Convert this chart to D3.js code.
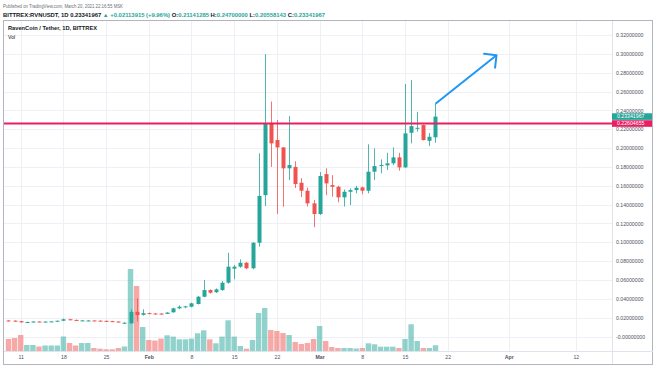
<!DOCTYPE html>
<html><head><meta charset="utf-8">
<script src="https://cdnjs.cloudflare.com/ajax/libs/d3/7.8.5/d3.min.js"></script>
<style>body{margin:0;background:#fff}svg{display:block}text{font-family:"Liberation Sans",Arial,sans-serif}</style>
</head><body><svg id="c" width="654" height="366"></svg>
<script>
// ---- data ----
const dates = [
 "2021-01-09","2021-01-10","2021-01-11","2021-01-12","2021-01-13","2021-01-14","2021-01-15","2021-01-16","2021-01-17","2021-01-18","2021-01-19","2021-01-20","2021-01-21","2021-01-22","2021-01-23","2021-01-24","2021-01-25","2021-01-26","2021-01-27","2021-01-28","2021-01-29","2021-01-30","2021-01-31",
 "2021-02-01","2021-02-02","2021-02-03","2021-02-04","2021-02-05","2021-02-06","2021-02-07","2021-02-08","2021-02-09","2021-02-10","2021-02-11","2021-02-12","2021-02-13","2021-02-14","2021-02-15","2021-02-16","2021-02-17","2021-02-18","2021-02-19","2021-02-20","2021-02-21","2021-02-22","2021-02-23","2021-02-24","2021-02-25","2021-02-26","2021-02-27","2021-02-28",
 "2021-03-01","2021-03-02","2021-03-03","2021-03-04","2021-03-05","2021-03-06","2021-03-07","2021-03-08","2021-03-09","2021-03-10","2021-03-11","2021-03-12","2021-03-13","2021-03-14","2021-03-15","2021-03-16","2021-03-17","2021-03-18","2021-03-19","2021-03-20"];
const open = [
 .0170,.0168,.0163,.0151,.0154,.0159,.0156,.0158,.0160,.0167,.0183,.0176,.0168,.0167,.0170,.0168,.0166,.0163,.0159,.0140,.0140,.0262,.0230,
 .0248,.0244,.0243,.0240,.0257,.0299,.0312,.0316,.0345,.0422,.0493,.0470,.0493,.0571,.0720,.0741,.0783,.0724,.0995,.1500,.2262,.2085,.2007,.1785,.1800,.1632,.1547,.1413,
 .1300,.1724,.1607,.1589,.1477,.1536,.1554,.1583,.1547,.1749,.1809,.1816,.1838,.1901,.1795,.2162,.2205,.2244,.2077,.21141285];
const high = [
 .0174,.0172,.0166,.0158,.0162,.0162,.0161,.0163,.0170,.0190,.0188,.0179,.0174,.0174,.0173,.0171,.0169,.0166,.0162,.0152,.0290,.0405,.0289,
 .0254,.0250,.0250,.0258,.0305,.0330,.0325,.0360,.0430,.0600,.0500,.0510,.0590,.0889,.0760,.0819,.0790,.1000,.1944,.2997,.2494,.2297,.2010,.2340,.1860,.1680,.1580,.1450,
 .1745,.1785,.1713,.1600,.1560,.1572,.1600,.1590,.2040,.1997,.1880,.1950,.2007,.1950,.2679,.2721,.2385,.2250,.2160,.2470];
const low = [
 .0162,.0160,.0146,.0147,.0150,.0153,.0152,.0154,.0157,.0164,.0172,.0166,.0164,.0163,.0165,.0163,.0160,.0156,.0150,.0136,.0136,.0160,.0222,
 .0238,.0236,.0236,.0238,.0252,.0290,.0300,.0310,.0340,.0415,.0455,.0462,.0485,.0560,.0607,.0730,.0715,.0715,.0953,.1385,.1800,.1300,.1377,.1660,.1576,.1480,.1380,.1160,
 .1290,.1500,.1483,.1425,.1380,.1395,.1520,.1510,.1520,.1660,.1732,.1767,.1820,.1760,.1790,.2050,.2173,.2080,.2021,.20558143];
const close = [
 .0166,.0163,.0151,.0154,.0159,.0156,.0158,.0160,.0167,.0183,.0176,.0170,.0171,.0170,.0168,.0166,.0163,.0159,.0154,.0146,.0262,.0228,.0248,
 .0244,.0240,.0240,.0254,.0299,.0316,.0320,.0352,.0422,.0493,.0465,.0500,.0571,.0741,.0741,.0783,.0724,.0995,.1491,.2262,.2050,.2007,.1785,.1820,.1618,.1547,.1413,.1300,
 .1703,.1625,.1589,.1477,.1536,.1554,.1579,.1547,.1749,.1809,.1820,.1838,.1901,.1795,.2156,.2233,.2215,.2085,.2120,.23341967];
const volume = [
 12,13,16,6,6,4.5,5.5,5.5,5.5,14.5,8,5.5,8,8,3,2.3,1.7,1.7,3,4.5,82,65,24,
 11,10.5,12.4,15.7,14.4,11.7,11.7,12.4,17.7,20.7,11.7,7.7,14.4,30.7,14.4,5,2.3,11,38,43,21,20,18,16,9,7,8,12,
 25,10,4,3,3,3,2.5,3,7.7,6.7,4.3,4.3,4.3,3,12,26.7,10,3,3,5.7];
const priceTicks = [0,0.02,0.04,0.06,0.08,0.10,0.12,0.14,0.16,0.18,0.20,0.22,0.24,0.26,0.28,0.30,0.32];
const timeTicks = ["2021-01-11","2021-01-18","2021-01-25","2021-02-01","2021-02-08","2021-02-15","2021-02-22","2021-03-01","2021-03-08","2021-03-15","2021-03-22","2021-04-01","2021-04-12"];
const timeLabels = ["11","18","25","Feb","8","15","22","Mar","8","15","22","Apr","12"];
const hLineValue = 0.22604655;
const lastPrice = 0.23341967;
const arrowPts = [["2021-03-20", 0.2470], ["2021-03-30", 0.2985]];

// ---- layout ----
const svg = d3.select("#c");
const L = 4, R = 612, T = 21, B = 351;
const parse = d3.timeParse("%Y-%m-%d");
const x = d3.scaleTime().domain([parse("2021-01-11"), parse("2021-04-12")]).range([20.7, 575.8]);
const y = d3.scaleLinear().domain([0, 0.32]).range([336.5, 35]);
const yv = d3.scaleLinear().domain([0, d3.max(volume)]).range([B, B - 82]);
const UP = "#26a69a", DN = "#ef5350", UPV = "rgba(38,166,154,0.5)", DNV = "rgba(239,83,80,0.5)";

svg.append("rect").attr("width",654).attr("height",366).attr("fill","#fff");

// header
svg.append("text").attr("x",3).attr("y",7.5).attr("font-size",4.6).attr("fill","#6a6d78")
  .attr("textLength",120).attr("lengthAdjust","spacingAndGlyphs")
  .text("Published on TradingView.com, March 20, 2021 22:16:55 MSK");
const h2 = svg.append("text").attr("x",3).attr("y",16.5).attr("font-size",5.6).attr("font-weight","bold")
  .attr("textLength",322).attr("lengthAdjust","spacingAndGlyphs");
[["BITTREX:RVNUSDT, 1D ","#131722"],["0.23341967 ","#131722"],["▲ +0.02113915 (+9.96%) ",UP],
 ["O:","#131722"],["0.21141285 ",UP],["H:","#131722"],["0.24700000 ",UP],["L:","#131722"],["0.20558143 ",UP],["C:","#131722"],["0.23341967",UP]]
 .forEach(([t,c]) => h2.append("tspan").attr("fill",c).text(t));

// frame
svg.append("rect").attr("x",3.5).attr("y",20.5).attr("width",649).attr("height",344).attr("fill","none").attr("stroke","#b2b5be");

// grids
const g = svg.append("g");
g.selectAll(".hg").data(priceTicks).join("line").attr("x1",L).attr("x2",R)
  .attr("y1",d=>Math.round(y(d))+0.5).attr("y2",d=>Math.round(y(d))+0.5).attr("stroke","#eef0f5");
g.selectAll(".vg").data(timeTicks).join("line").attr("y1",T).attr("y2",B)
  .attr("x1",d=>Math.round(x(parse(d)))+0.5).attr("x2",d=>Math.round(x(parse(d)))+0.5).attr("stroke","#eef0f5");

// clip
svg.append("clipPath").attr("id","pc").append("rect").attr("x",L).attr("y",T).attr("width",R-L).attr("height",B-T);
const plot = svg.append("g").attr("clip-path","url(#pc)");

const data = dates.map((d,i)=>({d:parse(d),o:open[i],h:high[i],l:low[i],c:close[i],v:volume[i]}));

// volume
plot.selectAll(".vb").data(data).join("rect")
  .attr("x",d=>x(d.d)-2.7).attr("width",5.4)
  .attr("y",d=>yv(d.v)).attr("height",d=>B-yv(d.v))
  .attr("fill",d=>d.c>=d.o?UPV:DNV);

// candles
plot.selectAll(".wk").data(data).join("line")
  .attr("x1",d=>Math.round(x(d.d))+0.5).attr("x2",d=>Math.round(x(d.d))+0.5)
  .attr("y1",d=>y(d.h)).attr("y2",d=>y(d.l))
  .attr("stroke",d=>d.c>=d.o?UP:DN).attr("stroke-width",1).attr("opacity",0.8);
plot.selectAll(".bd").data(data).join("rect")
  .attr("x",d=>Math.round(x(d.d))-1.5).attr("width",4)
  .attr("y",d=>y(Math.max(d.o,d.c))).attr("height",d=>Math.max(1,Math.abs(y(d.o)-y(d.c))))
  .attr("fill",d=>d.c>=d.o?UP:DN);

// horizontal line
plot.append("line").attr("x1",L).attr("x2",R).attr("y1",y(hLineValue)).attr("y2",y(hLineValue))
  .attr("stroke","#e91e63").attr("stroke-width",2);

// arrow
const a0 = [x(parse(arrowPts[0][0])), y(arrowPts[0][1])];
const a1 = [x(parse(arrowPts[1][0])), y(arrowPts[1][1])];
const ang = Math.atan2(a0[1]-a1[1], a0[0]-a1[0]);
const al = 12.5, aw = Math.PI/4;
plot.append("path").attr("d",`M${a0}L${a1}`).attr("stroke","#2196f3").attr("stroke-width",2).attr("fill","none");
plot.append("path").attr("d",`M${a1[0]+al*Math.cos(ang+aw)},${a1[1]+al*Math.sin(ang+aw)}L${a1}L${a1[0]+al*Math.cos(ang-aw)},${a1[1]+al*Math.sin(ang-aw)}`)
  .attr("stroke","#2196f3").attr("stroke-width",2).attr("fill","none").attr("stroke-linecap","round").attr("stroke-linejoin","round");

// separators
svg.append("line").attr("x1",R+0.5).attr("x2",R+0.5).attr("y1",T).attr("y2",364).attr("stroke","#e0e3eb");
svg.append("line").attr("x1",L).attr("x2",653).attr("y1",B+0.5).attr("y2",B+0.5).attr("stroke","#e0e3eb");

// price axis
const ya = svg.append("g").attr("transform",`translate(${R},0)`)
  .call(d3.axisRight(y).tickValues(priceTicks).tickSize(0).tickPadding(4)
    .tickFormat(d=>d===0?"-0.00000000":d.toFixed(8)));
ya.select(".domain").remove();
ya.selectAll("text").attr("font-size",5.2).attr("fill","#50535e").attr("font-family","Liberation Sans, Arial, sans-serif");

// time axis
const xa = svg.append("g").attr("transform",`translate(0,${B})`)
  .call(d3.axisBottom(x).tickValues(timeTicks.map(parse)).tickSize(0).tickPadding(4)
    .tickFormat((d,i)=>timeLabels[i]));
xa.select(".domain").remove();
xa.selectAll("text").attr("font-size",5.2).attr("fill","#50535e").attr("font-family","Liberation Sans, Arial, sans-serif")
  .attr("font-weight",(d,i)=>/[A-Za-z]/.test(timeLabels[i])?"bold":"normal");

// price labels
const lab = svg.append("g");
const yc = y(lastPrice), yl = Math.max(y(hLineValue), yc + 6.5);
[[yc, UP, lastPrice],[yl, "#e91e63", hLineValue]].forEach(([yy,col,v])=>{
  lab.append("rect").attr("x",R).attr("y",yy-3.3).attr("width",40).attr("height",6.6).attr("fill",col);
  lab.append("text").attr("x",R+5).attr("y",yy+1.8).attr("font-size",5.2).attr("fill","#fff").text(v.toFixed(8));
});

// titles
svg.append("text").attr("x",8).attr("y",30).attr("font-size",5.4).attr("font-weight","bold").attr("fill","#131722")
  .attr("textLength",89).attr("lengthAdjust","spacingAndGlyphs").text("RavenCoin / Tether, 1D, BITTREX");
svg.append("text").attr("x",8).attr("y",38.5).attr("font-size",5.2).attr("fill","#131722").text("Vol");
</script></body></html>
